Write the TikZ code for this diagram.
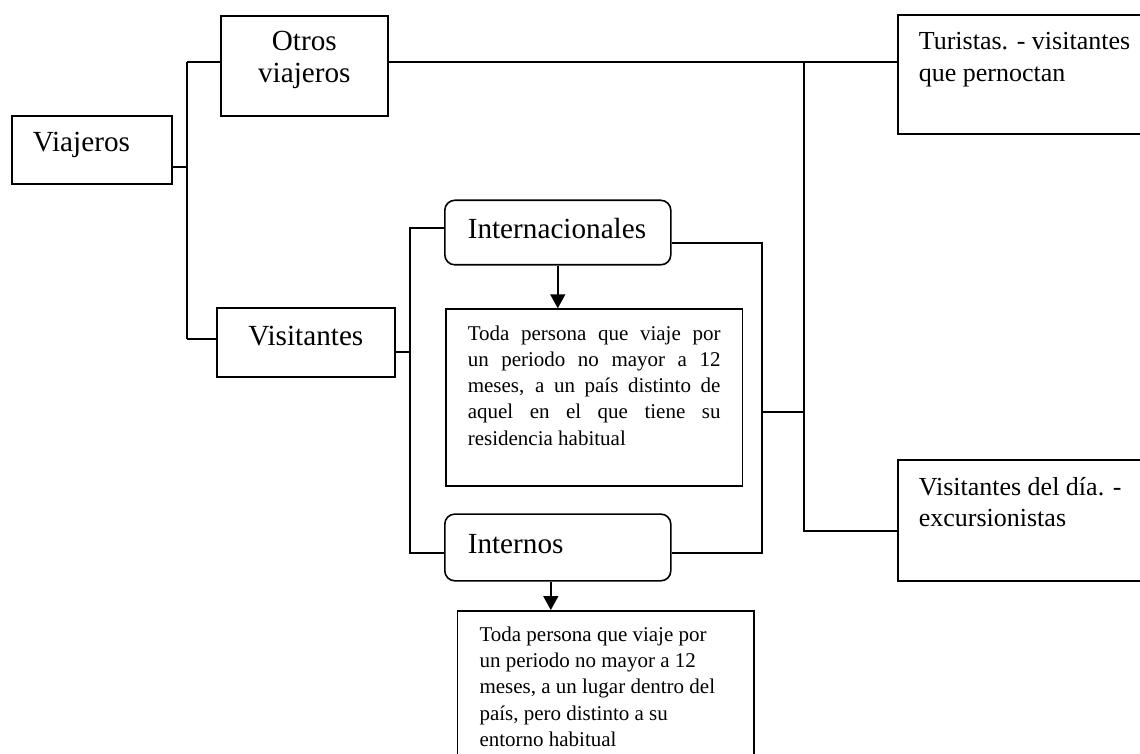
\documentclass[tikz,border=0pt]{standalone}
\usepackage{fontspec}
\setmainfont{Liberation Serif}
\usepackage{tikz}
\usetikzlibrary{arrows.meta}

\newcommand{\boxtext}[3]{\parbox[t][#2][t]{#1}{#3}}

\begin{document}
\begin{tikzpicture}[x=0.5pt, y=-0.5pt]
            \tikzset{
                text_box/.style={draw, shape = rectangle, thick, anchor = north west},
                round_box/.style={text_box, rounded corners = 5pt},
                big_font/.style={font=\fontsize{14.6}{15.6}\selectfont},
                mid_font/.style={font=\fontsize{13}{15.7}\selectfont},
                small_font/.style={font=\fontsize{10.5}{13.1}\selectfont},
                link/.style={thick},
                down_arrow/.style={thick, -{Triangle[length=7pt, width=7.5pt]}}
            }
            \useasboundingbox (0,0) rectangle (1140,754);
            % left column
            \node[text_box, big_font, inner xsep=10.5pt, inner ysep=8.3pt] (viajeros) at (11,115)
                {\boxtext{59pt}{17.4pt}{Viajeros}};
            \node[text_box, big_font, inner xsep=5pt, inner ysep=7.9pt] (otros) at (220,15)
                {\boxtext{73.5pt}{34.2pt}{\centering Otros\\ viajeros}};
            \node[text_box, big_font, inner xsep=5pt, inner ysep=8.8pt] (visit) at (216,307.3)
                {\boxtext{79pt}{16.75pt}{\centering Visitantes}};
            % middle column
            \node[round_box, big_font, inner xsep=11.5pt, inner ysep=9.2pt] (inter) at (444,199.5)
                {\boxtext{90pt}{13.85pt}{Internacionales}};
            \node[text_box, small_font, inner xsep=11pt, inner ysep=8.3pt] (def1) at (445,308.3)
                {\boxtext{126.35pt}{71.75pt}{%
                \makebox[\linewidth][s]{Toda persona que viaje por}\\
                \makebox[\linewidth][s]{un periodo no mayor a 12}\\
                \makebox[\linewidth][s]{meses, a un país distinto de}\\
                \makebox[\linewidth][s]{aquel en el que tiene su}\\
                residencia habitual}};
            \node[round_box, big_font, inner xsep=11.5pt, inner ysep=10.3pt] (intern) at (444,513.3)
                {\boxtext{90pt}{12.75pt}{Internos}};
            \node[text_box, small_font, inner xsep=11pt, inner ysep=8.1pt] (def2) at (456.7,610)
                {\boxtext{126.3pt}{73.8pt}{Toda persona que viaje por\\
                un periodo no mayor a 12\\
                meses, a un lugar dentro del\\
                país, pero distinto a su\\
                entorno habitual}};
            % right column
            \node[text_box, mid_font, inner xsep=10.5pt, inner ysep=8.8pt] (tur) at (897,14)
                {\boxtext{110.5pt}{41.9pt}{Turistas. - visitantes\\ que pernoctan}};
            \node[text_box, mid_font, inner xsep=10.5pt, inner ysep=8.8pt] (dia) at (897,459)
                {\boxtext{110.5pt}{42.9pt}{Visitantes del día. -\\ excursionistas}};
            % connectors
            \coordinate (v_top) at (187,62);
            \coordinate (v_mid) at (187,167);
            \coordinate (v_bot) at (187,339);
            \draw[link] (v_top) -- (v_bot);
            \draw[link] (viajeros.east |- v_mid) -- (v_mid);
            \draw[link] (v_top) -- (otros.west |- v_top);
            \draw[link] (v_bot) -- (visit.west |- v_bot);
            \draw[link] (otros.east |- v_top) -- (tur.west |- v_top);
            \coordinate (t_top) at (804,62);
            \coordinate (t_bot) at (804,531);
            \draw[link] (t_top) -- (t_bot) -- (dia.west |- t_bot);
            \coordinate (l_top) at (410,228);
            \coordinate (l_mid) at (410,352);
            \coordinate (l_bot) at (410,553);
            \draw[link] (inter.west |- l_top) -- (l_top) -- (l_bot) -- (intern.west |- l_bot);
            \draw[link] (visit.east |- l_mid) -- (l_mid);
            \coordinate (r_top) at (762,243);
            \coordinate (r_mid) at (762,412);
            \coordinate (r_bot) at (762,553);
            \draw[link] (inter.east |- r_top) -- (r_top) -- (r_bot) -- (intern.east |- r_bot);
            \draw[link] (r_mid) -- (t_top |- r_mid);
            % arrows
            \draw[down_arrow] (inter.south) -- (inter.south |- def1.north);
            \draw[down_arrow] ([xshift=-3.5pt]intern.south) -- ([xshift=-3.5pt]intern.south |- def2.north);
        \end{tikzpicture}
\end{document}
